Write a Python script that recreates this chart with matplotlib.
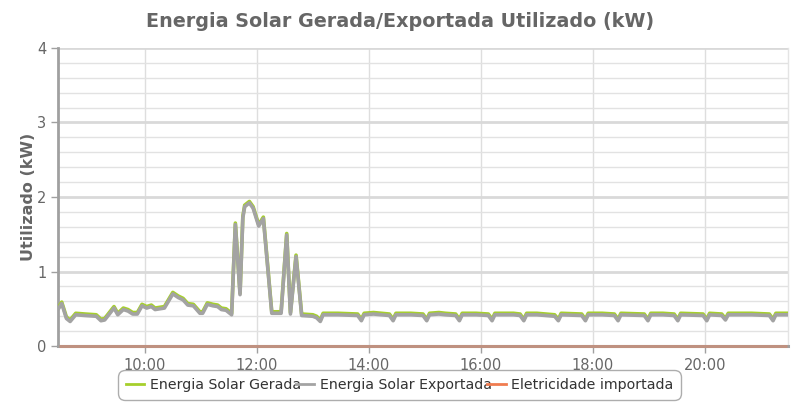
import matplotlib.pyplot as plt
import matplotlib.dates as mdates
import pandas as pd
from matplotlib.lines import Line2D
from matplotlib.ticker import MultipleLocator

# leituras (hora, kW)
times = [
    "08:28", "08:31", "08:36", "08:40", "08:46", "08:56", "09:08", "09:13",
    "09:17", "09:22", "09:27", "09:31", "09:37", "09:42", "09:47", "09:52",
    "09:57", "10:02", "10:07", "10:11", "10:21", "10:30", "10:36", "10:41",
    "10:46", "10:52", "10:59", "11:02", "11:07", "11:13", "11:18", "11:22",
    "11:27", "11:33", "11:37", "11:42", "11:45", "11:47", "11:52", "11:56",
    "12:02", "12:07", "12:16", "12:26", "12:32", "12:36", "12:42", "12:48",
    "13:00", "13:04", "13:08", "13:11", "13:27", "13:48", "13:52", "13:55",
    "14:05", "14:22", "14:26", "14:29", "14:45", "14:58", "15:02", "15:05",
    "15:15", "15:22", "15:33", "15:37", "15:40", "15:55", "16:08", "16:12",
    "16:15", "16:35", "16:42", "16:46", "16:49", "17:00", "17:19", "17:23",
    "17:26", "17:48", "17:52", "17:55", "18:10", "18:23", "18:27", "18:30",
    "18:55", "18:59", "19:02", "19:15", "19:27", "19:31", "19:34", "19:58",
    "20:02", "20:05", "20:18", "20:22", "20:25", "20:50", "21:09", "21:13",
    "21:16", "21:28",
]
gerada = [
    0.53, 0.59, 0.39, 0.35, 0.44, 0.43, 0.42, 0.36,
    0.37, 0.45, 0.53, 0.44, 0.51, 0.49, 0.45, 0.45,
    0.56, 0.53, 0.55, 0.51, 0.53, 0.72, 0.67, 0.64,
    0.57, 0.56, 0.46, 0.46, 0.58, 0.56, 0.55, 0.51,
    0.50, 0.44, 1.65, 0.71, 1.74, 1.89, 1.94, 1.87,
    1.63, 1.73, 0.46, 0.46, 1.51, 0.45, 1.22, 0.43,
    0.42, 0.40, 0.35, 0.44, 0.44, 0.43, 0.36, 0.44,
    0.45, 0.43, 0.36, 0.44, 0.44, 0.43, 0.36, 0.44,
    0.45, 0.44, 0.43, 0.36, 0.44, 0.44, 0.43, 0.36,
    0.44, 0.44, 0.43, 0.36, 0.44, 0.44, 0.42, 0.36,
    0.44, 0.43, 0.36, 0.44, 0.44, 0.43, 0.36, 0.44,
    0.43, 0.36, 0.44, 0.44, 0.43, 0.36, 0.44, 0.43,
    0.36, 0.44, 0.43, 0.37, 0.44, 0.44, 0.43, 0.36,
    0.44, 0.44,
]
exportada = [
    0.51, 0.57, 0.37, 0.33, 0.42, 0.41, 0.40, 0.34,
    0.35, 0.43, 0.51, 0.42, 0.49, 0.47, 0.43, 0.43,
    0.54, 0.51, 0.53, 0.49, 0.51, 0.70, 0.65, 0.62,
    0.55, 0.54, 0.44, 0.44, 0.56, 0.54, 0.53, 0.49,
    0.48, 0.42, 1.63, 0.69, 1.72, 1.87, 1.92, 1.85,
    1.61, 1.71, 0.44, 0.44, 1.49, 0.43, 1.20, 0.41,
    0.40, 0.38, 0.33, 0.42, 0.42, 0.41, 0.34, 0.42,
    0.43, 0.41, 0.34, 0.42, 0.42, 0.41, 0.34, 0.42,
    0.43, 0.42, 0.41, 0.34, 0.42, 0.42, 0.41, 0.34,
    0.42, 0.42, 0.41, 0.34, 0.42, 0.42, 0.40, 0.34,
    0.42, 0.41, 0.34, 0.42, 0.42, 0.41, 0.34, 0.42,
    0.41, 0.34, 0.42, 0.42, 0.41, 0.34, 0.42, 0.41,
    0.34, 0.42, 0.41, 0.35, 0.42, 0.42, 0.41, 0.34,
    0.42, 0.42,
]
importada = [0.0] * len(times)

GREEN = "#a6cf2c"
GRAY = "#a3a3a3"
ORANGE = "#f07c50"
TEXT = "#666666"


def main() -> None:
    t = pd.to_datetime(["2020-01-01 " + s for s in times])

    fig = plt.figure(figsize=(8, 4.2), dpi=100)
    ax = fig.add_axes([0.0725, 0.176, 0.9125, 0.71])

    # importada fica por cima do eixo x, meio transparente
    ax.plot(t, importada, color=ORANGE, lw=2.2, alpha=0.4, zorder=4,
            solid_capstyle="butt", clip_on=False)
    ax.plot(t, gerada, color=GREEN, lw=2.6, zorder=5, solid_joinstyle="round")
    ax.plot(t, exportada, color=GRAY, lw=2.6, zorder=6, solid_joinstyle="round")

    ax.set_xlim(pd.Timestamp("2020-01-01 08:27"), pd.Timestamp("2020-01-01 21:29"))
    ax.set_ylim(0, 4)
    ax.xaxis.set_major_locator(mdates.HourLocator(byhour=range(10, 22, 2)))
    ax.xaxis.set_major_formatter(mdates.DateFormatter("%H:%M"))
    ax.yaxis.set_major_locator(MultipleLocator(1))
    ax.yaxis.set_minor_locator(MultipleLocator(0.2))

    ax.grid(axis="y", which="major", color="#d9d9d9", lw=2)
    ax.grid(axis="y", which="minor", color="#e2e2e2", lw=1)
    ax.grid(axis="x", which="major", color="#dedede", lw=1)
    ax.set_axisbelow(True)

    ax.spines["top"].set_visible(False)
    ax.spines["right"].set_color("#e4e4e4")
    ax.spines["right"].set_linewidth(1)
    ax.spines["left"].set_color("#a0a0a0")
    ax.spines["left"].set_linewidth(2)
    ax.spines["bottom"].set_color("#a0a0a0")
    ax.spines["bottom"].set_linewidth(2.2)

    ax.tick_params(axis="both", which="major", colors="#a0a0a0", labelcolor=TEXT,
                   labelsize=10.5, length=5, width=1)
    ax.tick_params(axis="y", which="minor", length=0)

    fig.text(0.5, 0.948, "Energia Solar Gerada/Exportada Utilizado (kW)",
             ha="center", va="center", fontsize=13.8, fontweight="bold", color=TEXT)
    ax.set_ylabel("Utilizado (kW)", fontsize=11.5, fontweight="bold", color=TEXT,
                  labelpad=0.5)

    handles = [
        Line2D([], [], color=GREEN, lw=2),
        Line2D([], [], color=GRAY, lw=2),
        Line2D([], [], color=ORANGE, lw=2),
    ]
    labels = ["Energia Solar Gerada", "Energia Solar Exportada",
              "Eletricidade importada"]
    leg = fig.legend(handles, labels, loc="center", bbox_to_anchor=(0.4995, 0.083),
                     ncol=3, fontsize=10.2, frameon=True, handlelength=1.3,
                     handletextpad=0.4, columnspacing=-0.35, borderpad=0.35)
    frame = leg.get_frame()
    frame.set_edgecolor("#999999")
    frame.set_linewidth(1)
    frame.set_boxstyle("round,pad=0.2,rounding_size=0.5")
    for txt in leg.get_texts():
        txt.set_color("#333333")

    fig.savefig("out.png", dpi=100)


if __name__ == "__main__":
    main()
